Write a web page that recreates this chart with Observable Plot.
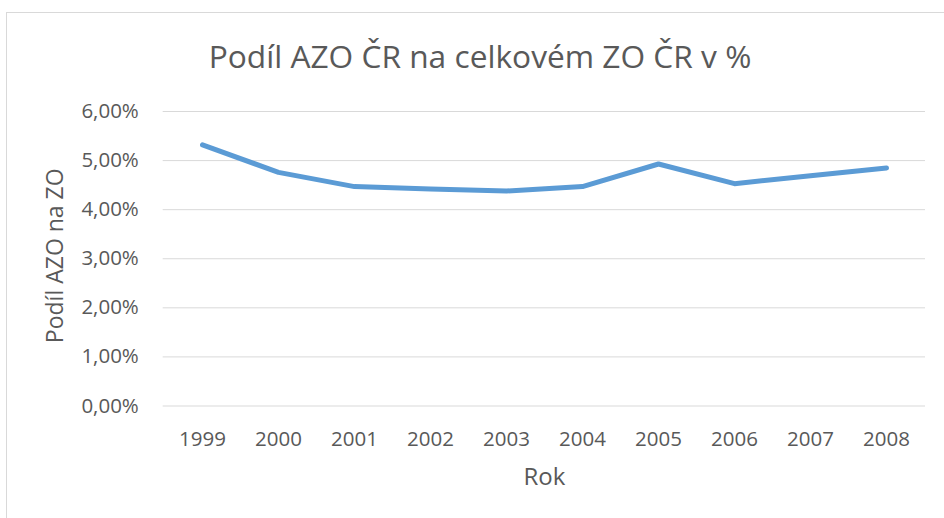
<!DOCTYPE html>
<html>
<head>
<meta charset="utf-8">
<script src="https://cdn.jsdelivr.net/npm/d3@7"></script>
<script src="https://cdn.jsdelivr.net/npm/@observablehq/plot@0.6"></script>
<style>
  html, body { margin: 0; padding: 0; background: #fff; overflow: hidden; }
  #wrap { position: relative; width: 944px; height: 518px; overflow: hidden; }
  #frame { position: absolute; left: 6px; top: 12px; width: 1000px; height: 1000px;
           border: 1.5px solid #d9d9d9; box-sizing: border-box; }
  #title { position: relative; box-sizing: border-box; width: 944px; height: 77px;
           padding-top: 34px; padding-left: 16px; line-height: 43px; text-align: center;
           font-family: "Open Sans", sans-serif; font-size: 31.7px; color: #595959; white-space: nowrap; }
  #chart { position: relative; }
</style>
</head>
<body>
<div id="wrap">
  <div id="frame"></div>
  <div id="title"></div>
  <div id="chart"></div>
</div>
<script>
const titleText = "Podíl AZO ČR na celkovém ZO ČR v %";
const yLabel = "Podíl AZO na ZO";
const xLabel = "Rok";
const years = ["1999", "2000", "2001", "2002", "2003", "2004", "2005", "2006", "2007", "2008"];
const share = [5.32, 4.76, 4.47, 4.42, 4.38, 4.47, 4.93, 4.53, 4.69, 4.85];
const yTicks = [0, 1, 2, 3, 4, 5, 6];

document.getElementById("title").textContent = titleText;

const rows = years.map((year, i) => ({year, share: share[i]}));

const chart = Plot.plot({
  width: 944,
  height: 441,
  marginLeft: 162.7,
  marginRight: 19,
  marginTop: 34,
  marginBottom: 112.5,
  style: {fontFamily: "Open Sans, sans-serif", color: "#595959", background: "transparent", overflow: "visible"},
  x: {type: "point", domain: years, padding: 0.5},
  y: {domain: [0, 6]},
  marks: [
    Plot.gridY(yTicks, {stroke: "#d9d9d9", strokeOpacity: 1, strokeWidth: 1}),
    Plot.axisY(yTicks, {tickSize: 0, tickPadding: 24.4, fontSize: 20.5, label: null,
      tickFormat: d => d.toFixed(2).replace(".", ",") + "%"}),
    Plot.axisX({tickSize: 0, tickPadding: 25, fontSize: 20.5, label: null}),
    Plot.text([xLabel], {frameAnchor: "bottom", text: d => d, dy: 78.5, lineAnchor: "bottom", fontSize: 24, fill: "#595959"}),
    Plot.text([yLabel], {frameAnchor: "left", text: d => d, rotate: -90, dx: -100, dy: -3, textAnchor: "middle", lineAnchor: "bottom", fontSize: 23, fill: "#595959"}),
    Plot.line(rows, {x: "year", y: "share", stroke: "#5B9BD5", strokeWidth: 5, strokeLinecap: "round", strokeLinejoin: "round"})
  ]
});
document.getElementById("chart").appendChild(chart);
</script>
</body>
</html>
